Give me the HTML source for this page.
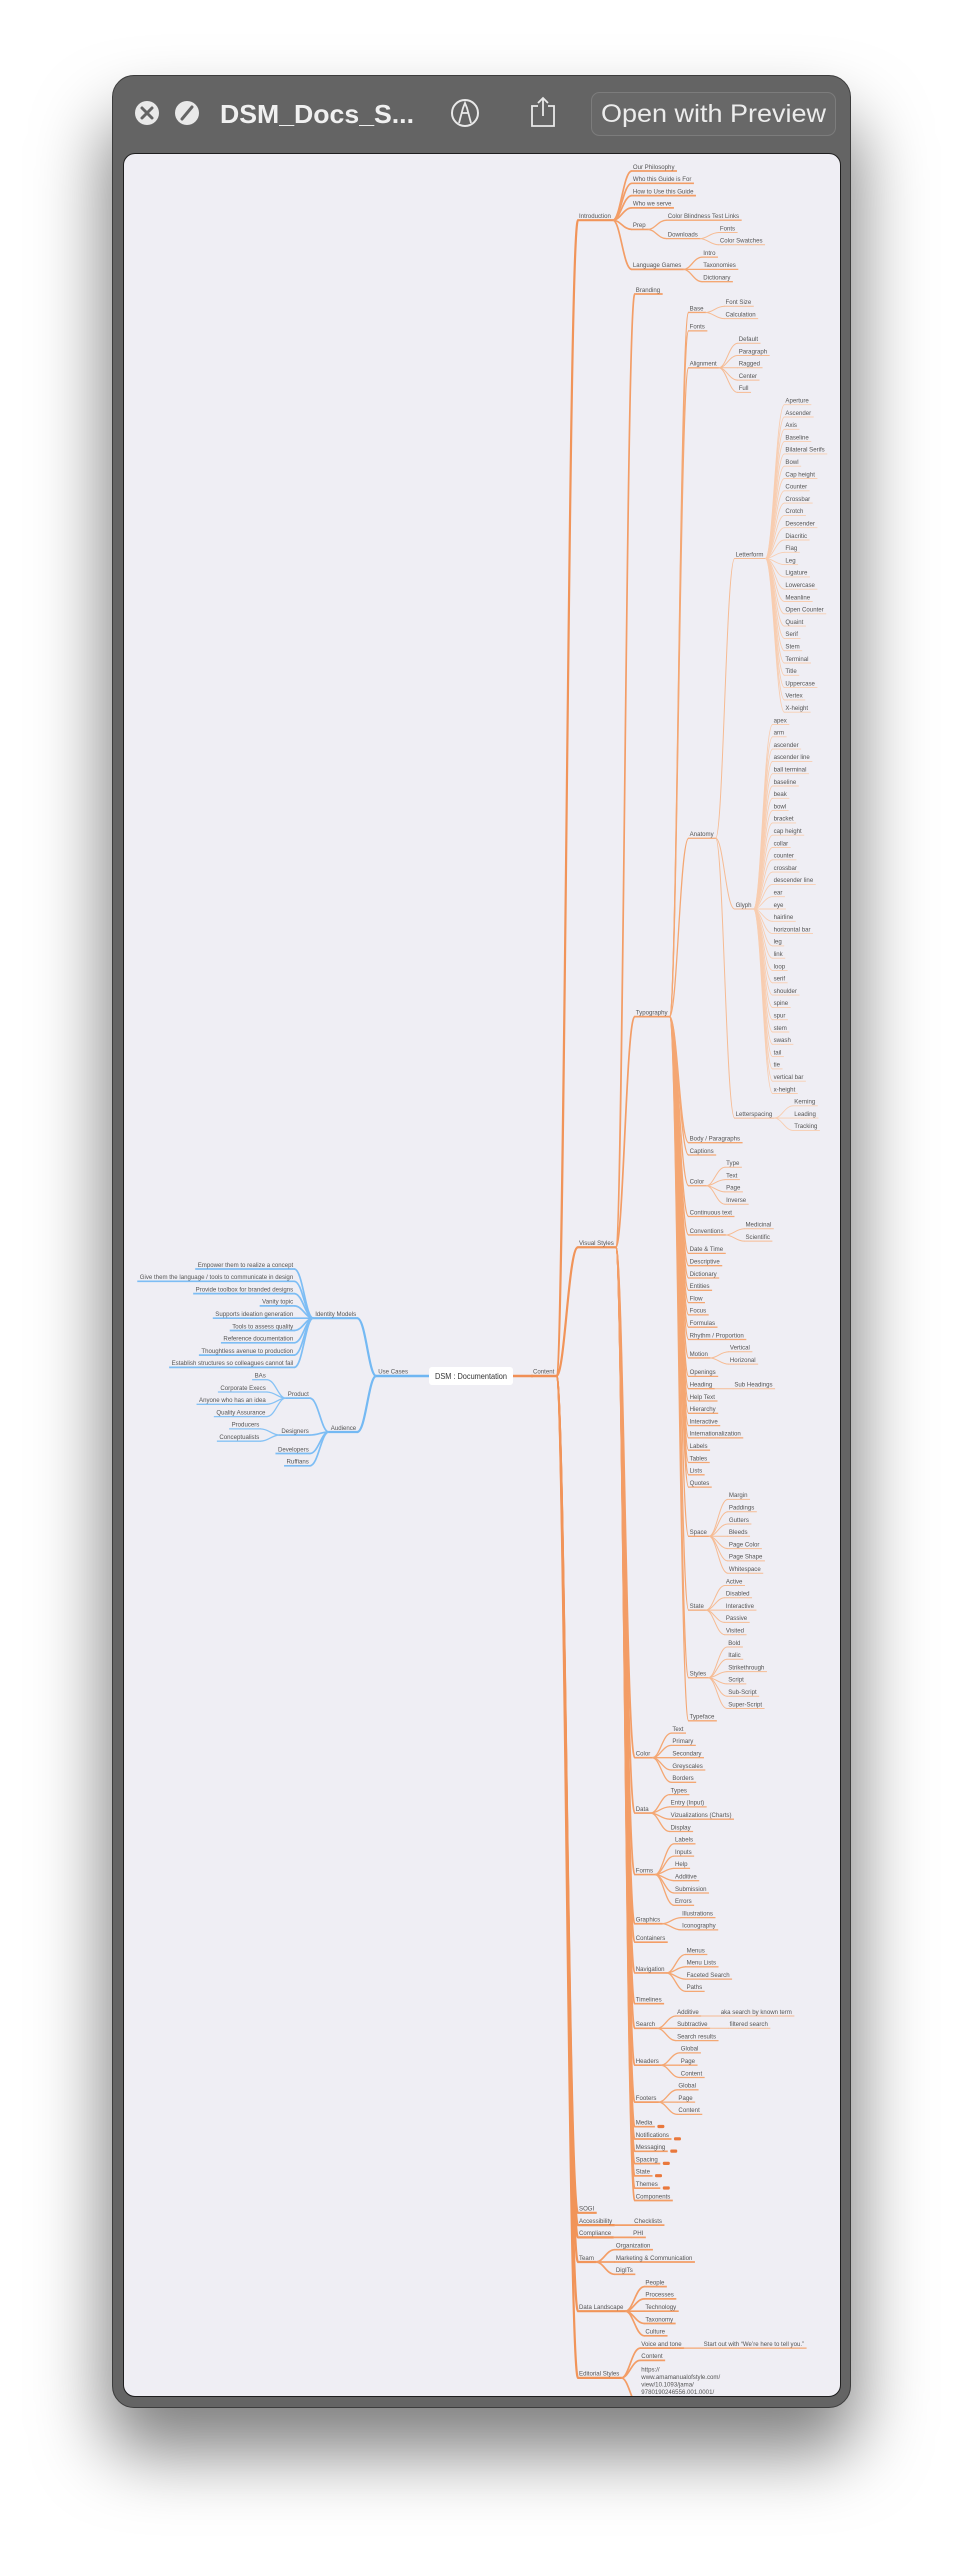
<!DOCTYPE html>
<html><head><meta charset="utf-8">
<style>
html,body{margin:0;padding:0;background:#fff;}
body{width:964px;height:2556px;position:relative;overflow:hidden;}
#shadow{position:absolute;left:118px;top:90px;width:727px;height:2310px;border-radius:24px;box-shadow:0 40px 70px 12px rgba(0,0,0,0.5);}
#frame{position:absolute;left:112px;top:75px;width:737px;height:2331px;background:#646464;border:1px solid #3c3c3c;border-radius:22px;}
#content{position:absolute;left:123px;top:153px;width:716px;height:2242px;background:#efeef4;border:1px solid #1e1e1e;border-radius:12px;overflow:hidden;}
svg{position:absolute;left:0;top:0;}
</style></head><body>
<div id="shadow"></div>
<div id="frame"></div>
<div id="content"></div>
<svg id="hdr" width="964" height="2556" viewBox="0 0 964 2556">
 <circle cx="147" cy="113" r="12" fill="#e9e9e9"/>
 <path d="M142 108 L152 118 M152 108 L142 118" stroke="#646464" stroke-width="3" stroke-linecap="round"/>
 <circle cx="187" cy="113" r="12" fill="#e9e9e9"/>
 <path d="M182 119 L192 107" stroke="#646464" stroke-width="3" stroke-linecap="round"/>
 <text x="220" y="123" font-family="Liberation Sans, sans-serif" font-weight="bold" font-size="26" fill="#f0f0f0" textLength="194" lengthAdjust="spacingAndGlyphs">DSM_Docs_S...</text>
 <circle cx="465" cy="113" r="13" fill="none" stroke="#e9e9e9" stroke-width="2"/>
 <path d="M459 123 L463 108 L465 103 L467 108 L471 123 M462 113 L468 113" fill="none" stroke="#e9e9e9" stroke-width="1.8"/>
 <path d="M538 106 L532 106 L532 126 L554 126 L554 106 L548 106 M543 116 L543 98 M538 103 L543 98 L548 103" fill="none" stroke="#e9e9e9" stroke-width="1.8"/>
 <rect x="591.5" y="92.5" width="244" height="43" rx="8" fill="#686868" stroke="#7c7c7c"/>
 <text x="601" y="122" font-family="Liberation Sans, sans-serif" font-size="25" fill="#ececec" textLength="225" lengthAdjust="spacingAndGlyphs">Open with Preview</text>
</svg>
<svg id="map" width="964" height="2556" viewBox="0 0 964 2556">
 <defs><clipPath id="cp"><rect x="124" y="154" width="716" height="2242" rx="11"/></clipPath></defs>
 <g id="g" clip-path="url(#cp)"></g>
</svg>
<script>
const RIGHT=`
Introduction
 Our Philosophy
 Who this Guide is For
 How to Use this Guide
 Who we serve
 Prep
  Color Blindness Test Links
  Downloads
   Fonts
   Color Swatches
 Language Games
  Intro
  Taxonomies
  Dictionary
Visual Styles
 Branding
 Typography
  Base
   Font Size
   Calculation
  Fonts
  Alignment
   Default
   Paragraph
   Ragged
   Center
   Full
  Anatomy
   Letterform
    Aperture
    Ascender
    Axis
    Baseline
    Bilateral Serifs
    Bowl
    Cap height
    Counter
    Crossbar
    Crotch
    Descender
    Diacritic
    Flag
    Leg
    Ligature
    Lowercase
    Meanline
    Open Counter
    Quaint
    Serif
    Stem
    Terminal
    Title
    Uppercase
    Vertex
    X-height
   Glyph
    apex
    arm
    ascender
    ascender line
    ball terminal
    baseline
    beak
    bowl
    bracket
    cap height
    collar
    counter
    crossbar
    descender line
    ear
    eye
    hairline
    horizontal bar
    leg
    link
    loop
    serif
    shoulder
    spine
    spur
    stem
    swash
    tail
    tie
    vertical bar
    x-height
   Letterspacing
    Kerning
    Leading
    Tracking
  Body / Paragraphs
  Captions
  Color
   Type
   Text
   Page
   Inverse
  Continuous text
  Conventions
   Medicinal
   Scientific
  Date & Time
  Descriptive
  Dictionary
  Entities
  Flow
  Focus
  Formulas
  Rhythm / Proportion
  Motion
   Vertical
   Horizonal
  Openings
  Heading
   Sub Headings
  Help Text
  Hierarchy
  Interactive
  Internationalization
  Labels
  Tables
  Lists
  Quotes
  Space
   Margin
   Paddings
   Gutters
   Bleeds
   Page Color
   Page Shape
   Whitespace
  State
   Active
   Disabled
   Interactive
   Passive
   Visited
  Styles
   Bold
   Italic
   Strikethrough
   Script
   Sub-Script
   Super-Script
  Typeface
 Color
  Text
  Primary
  Secondary
  Greyscales
  Borders
 Data
  Types
  Entry (Input)
  Vizualizations (Charts)
  Display
 Forms
  Labels
  Inputs
  Help
  Additive
  Submission
  Errors
 Graphics
  Illustrations
  Iconography
 Containers
 Navigation
  Menus
  Menu Lists
  Faceted Search
  Paths
 Timelines
 Search
  Additive
   aka search by known term
  Subtractive
   filtered search
  Search results
 Headers
  Global
  Page
  Content
 Footers
  Global
  Page
  Content
 *Media
 *Notifications
 *Messaging
 *Spacing
 *State
 *Themes
 Components
SOGI
Accessibility
 Checklists
Compliance
 PHI
Team
 Organization
 Marketing & Communication
 DigITs
Data Landscape
 People
 Processes
 Technology
 Taxonomy
 Culture
Editorial Styles
 Voice and tone
  Start out with “We’re here to tell you.”
 Content
 §https://|www.amamanualofstyle.com/|view/10.1093/jama/|9780190246556.001.0001/|med-9780190246556`;
const LEFT=`
Identity Models
 Empower them to realize a concept
 Give them the language / tools to communicate in design
 Provide toolbox for branded designs
 Vanity topic
 Supports ideation generation
 Tools to assess quality
 Reference documentation
 Thoughtless avenue to production
 Establish structures so colleagues cannot fail
Audience
 Product
  BAs
  Corporate Execs
  Anyone who has an idea
  Quality Assurance
 Designers
  Producers
  Conceptualists
 Developers
 Ruffians`;
function parse(t){const root={l:'',c:[]};const st=[{n:root,d:-1}];
 t.split('\n').forEach(line=>{if(!line.trim())return;const d=line.length-line.trimStart().length;
  let l=line.trim();const n={l:l,c:[]};
  if(l[0]=='*'){n.col=true;n.l=l.slice(1);} if(l[0]=='§'){n.url=l.slice(1).split('|');n.l='';}
  while(st[st.length-1].d>=d)st.pop();st[st.length-1].n.c.push(n);st.push({n:n,d:d});});
 return root;}
const FS=6.1, FONT='Liberation Sans, sans-serif';
const cv=document.createElement('canvas').getContext('2d');cv.font=FS+'px "Liberation Sans"';
const mw=s=>cv.measureText(s).width;
const g=document.getElementById('g');const NS='http://www.w3.org/2000/svg';
function el(tag,a,txt){const e=document.createElementNS(NS,tag);for(const k in a)e.setAttribute(k,a[k]);if(txt!=null)e.textContent=txt;g.appendChild(e);return e;}
const STEP=12.3;
function sty(d,blue){const ow=[2.4,2.2,1.7,1.3,1.0,0.9];const oc=['#f08f55','#f19459','#f39d66','#f4a773','#f6bb93','#f8cdb0'];
 const bc=['#6fb6f2','#74b9f3','#7dbdf4','#86c2f5','#90c6f5','#9accf6'];const i=Math.min(d,5);return {w:ow[i],c:blue?bc[i]:oc[i]};}
function txt(x,y,s,anchor){el('text',{x:x,y:y,'font-family':FONT,'font-size':FS,fill:'#555','text-anchor':anchor||'start'},s);}
// RIGHT
const R=parse(RIGHT);let ly=171;
function layR(n,x,d){n.x=x;n.d=d;n.w=n.url?Math.max(...n.url.map(mw)):mw(n.l);
 if(n.c.length){n.c.forEach(c=>layR(c,x+n.w+22,d+1));n.y=(n.c[0].y+n.c[n.c.length-1].y)/2;}
 else if(n.url){n.y=ly+35;ly+=50;}else{n.y=ly;ly+=STEP;}}
const content={l:'Content',x:533,y:1376,d:0,c:R.c};content.w=mw('Content');
R.c.forEach(c=>layR(c,579,1));
function curve(x0,y0,x1,y1,s){const d=x1-x0;el('path',{d:`M${x0} ${y0} C${x0+0.4*d} ${y0} ${x0+0.55*d} ${y1} ${x1} ${y1}`,fill:'none',stroke:s.c,'stroke-width':s.w});}
function drawR(n){n.c.forEach(c=>{const s=sty(c.d,false);curve(n.x+n.w+2,n.y,c.x-1,c.y,s);
  el('line',{x1:c.x-1.5,y1:c.y,x2:c.x+c.w+2.5,y2:c.y,stroke:s.c,'stroke-width':s.w});
  if(c.url){c.url.forEach((u,i)=>txt(c.x,c.y-36+i*7.4,u));}else txt(c.x,c.y-2.2,c.l);
  if(c.col)el('rect',{x:c.x+c.w+5,y:c.y-1.8,width:7,height:3.2,rx:1.2,fill:'#e9783c'});
  drawR(c);});}
// root -> content
el('path',{d:'M513 1376 L533 1376',stroke:'#f08f55','stroke-width':2.6,fill:'none'});
el('line',{x1:531,y1:1376,x2:content.x+content.w+3,y2:1376,stroke:'#f08f55','stroke-width':2.6});
txt(content.x,1373.5,'Content');
drawR(content);
// LEFT
const L=parse(LEFT);let lly=1269;
function layL(n,xr,d){n.xr=xr;n.d=d;n.w=mw(n.l);n.xl=xr-n.w;
 if(n.c.length){n.c.forEach(c=>layL(c,n.xl-22,d+1));n.y=(n.c[0].y+n.c[n.c.length-1].y)/2;}else{n.y=lly;lly+=STEP;}}
const uc={l:'Use Cases',d:0,c:L.c};uc.w=mw('Use Cases');uc.xr=408;uc.xl=408-uc.w;uc.y=1376;
L.c.forEach(c=>layL(c,uc.xl-22,1));
function drawL(n){n.c.forEach(c=>{const s=sty(c.d,true);curve(n.xl-2,n.y,c.xr+1,c.y,s);
  el('line',{x1:c.xl-2.5,y1:c.y,x2:c.xr+1.5,y2:c.y,stroke:s.c,'stroke-width':s.w});
  txt(c.xl,c.y-2.2,c.l);drawL(c);});}
el('line',{x1:uc.xl-2.5,y1:1376,x2:429,y2:1376,stroke:'#6fb6f2','stroke-width':2.6});
txt(uc.xl,1373.5,'Use Cases');
drawL(uc);
// root box
el('rect',{x:429,y:1367,width:84,height:18,rx:3,fill:'#ffffff'});
el('text',{x:435,y:1379,'font-family':FONT,'font-size':7.8,fill:'#333',textLength:72,lengthAdjust:'spacingAndGlyphs'},'DSM : Documentation');
</script>
</body></html>
